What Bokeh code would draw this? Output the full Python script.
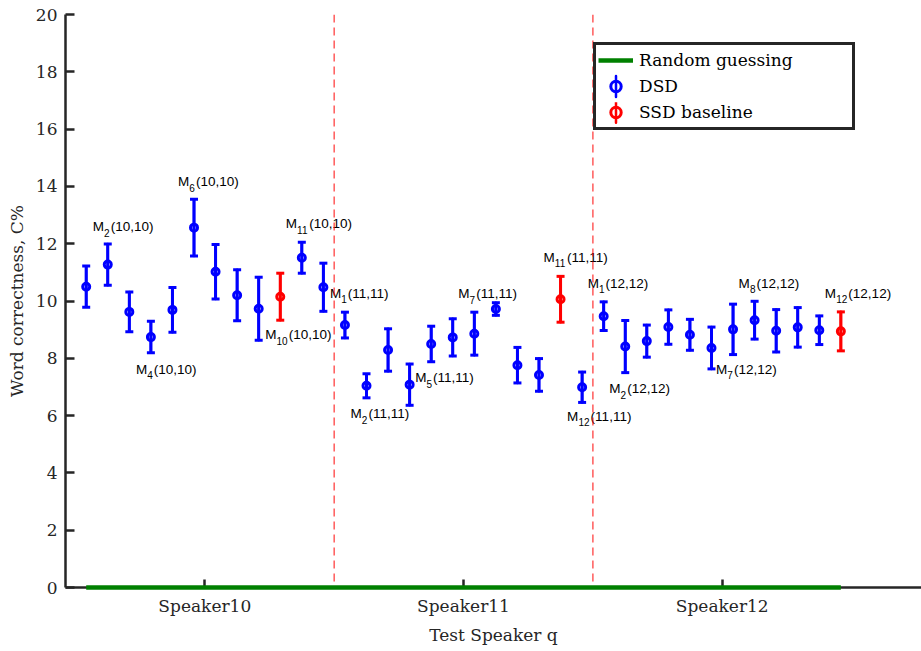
import math
from bokeh.plotting import figure
from bokeh.models import ColumnDataSource, Span, FixedTicker, Legend, LegendItem, Range1d
from bokeh.embed import file_html
from bokeh.resources import INLINE
from bokeh.core.properties import value

# ---------------- data ----------------
speakers = ["Speaker10", "Speaker11", "Speaker12"]
speaker_ids = [10, 11, 12]
n_models = 12

mean_s10 = [10.50, 11.27, 9.62, 8.74, 9.69, 12.56, 11.02, 10.20, 9.73, 10.15, 11.51, 10.48]
err_s10 = [0.72, 0.72, 0.69, 0.55, 0.78, 0.99, 0.95, 0.89, 1.10, 0.82, 0.54, 0.84]
mean_s11 = [9.16, 7.04, 8.29, 7.08, 8.50, 8.73, 8.86, 9.72, 7.76, 7.42, 10.06, 6.99]
err_s11 = [0.45, 0.42, 0.74, 0.72, 0.62, 0.65, 0.75, 0.22, 0.62, 0.57, 0.80, 0.53]
mean_s12 = [9.47, 8.41, 8.60, 9.09, 8.82, 8.36, 9.01, 9.33, 8.96, 9.08, 8.98, 8.94]
err_s12 = [0.50, 0.91, 0.56, 0.60, 0.54, 0.73, 0.88, 0.66, 0.74, 0.69, 0.50, 0.68]
ssd_model = [10, 11, 12]          # model index of the SSD baseline per test speaker
random_guess = 0.0
yticks = [0, 2, 4, 6, 8, 10, 12, 14, 16, 18, 20]

# annotated models: (speaker index, model number)
labelled = [(0, 2), (0, 4), (0, 6), (0, 10), (0, 11),
            (1, 1), (1, 2), (1, 5), (1, 7), (1, 11), (1, 12),
            (2, 1), (2, 2), (2, 7), (2, 8), (2, 12)]
# screen offsets (px) of each annotation from its point
label_offsets = [(-15, -38), (-15, 32), (-16, -46), (-15, 38), (-16, -34),
                 (-15, -32), (-16, 28), (-16, 34), (-16, -40), (-17, -42), (-15, 29),
                 (-16, -33), (-16, 42), (-17, 40), (-16, -37), (-16, -38)]

means = [mean_s10, mean_s11, mean_s12]
errs = [err_s10, err_s11, err_s12]

# ---------------- build sources ----------------
def pos(s, m):
    return n_models * s + m

dsd = dict(x=[], y=[], lo=[], hi=[], h=[])
ssd = dict(x=[], y=[], lo=[], hi=[], h=[])
for s in range(len(speakers)):
    for m in range(1, n_models + 1):
        v = means[s][m - 1]
        e = errs[s][m - 1]
        d = ssd if m == ssd_model[s] else dsd
        d["x"].append(pos(s, m))
        d["y"].append(v)
        d["lo"].append(v - e)
        d["hi"].append(v + e)
        d["h"].append(2 * e)
dsd_src = ColumnDataSource(dsd)
ssd_src = ColumnDataSource(ssd)

BLUE = "#0000ff"
RED = "#ff0000"
GREEN = "#008000"
AX = "#262626"
SERIF = "'DejaVu Serif', serif"
SANS = "'Liberation Sans', Arial, sans-serif"

p = figure(width=921, height=651, x_range=Range1d(0.04, 39.74), y_range=Range1d(0, 20),
           output_backend="svg", toolbar_location=None,
           min_border_left=65, min_border_right=0, min_border_top=14, min_border_bottom=64)
p.outline_line_color = None
p.grid.visible = False
p.background_fill_color = "white"

# separators between speakers
for s in range(len(speakers) - 1):
    p.add_layout(Span(location=pos(s, n_models) + 0.5, dimension="height",
                      line_color=RED, line_alpha=0.75, line_width=1.3, line_dash="8 5"))

def draw(src, color):
    p.segment(x0="x", y0="lo", x1="x", y1="hi", source=src, line_color=color, line_width=3)
    p.scatter(x="x", y="lo", source=src, marker="dash", size=8, line_color=color, line_width=3)
    p.scatter(x="x", y="hi", source=src, marker="dash", size=8, line_color=color, line_width=3)
    # thin ellipse spanning the error bar: hidden under the stem, gives a vertical bar legend icon
    el = p.ellipse(x="x", y="y", width=0.01, height="h", width_units="screen",
                   source=src, fill_color=None, line_color=color, line_width=2.5)
    c = p.scatter(x="x", y="y", source=src, marker="circle", size=7, fill_color=None,
                  line_color=color, line_width=3)
    return el, c

dsd_el, dsd_c = draw(dsd_src, BLUE)
ssd_el, ssd_c = draw(ssd_src, RED)

rg = p.line(x=[pos(0, 1), pos(len(speakers) - 1, n_models)], y=[random_guess, random_guess],
            line_color=GREEN, line_width=4.5, level="overlay")

# annotations M_k(q,q)
ann = dict(x=[], y=[], m=[], sub=[], rest=[], dx=[], dy=[], sdx=[], sdy=[], rdx=[])
for (s, m), (ox, oy) in zip(labelled, label_offsets):
    ann["x"].append(pos(s, m))
    ann["y"].append(means[s][m - 1])
    ann["m"].append("M")
    ann["sub"].append(str(m))
    ann["rest"].append("(%d,%d)" % (speaker_ids[s], speaker_ids[s]))
    ann["dx"].append(ox)
    ann["dy"].append(oy)
    ann["sdx"].append(ox + 11.3)
    ann["sdy"].append(oy + 6)
    ann["rdx"].append(ox + 11.3 + 5.6 * len(str(m)) + 1.0)
ann_src = ColumnDataSource(ann)
common = dict(source=ann_src, text_font=value(SANS), text_baseline="middle",
              text_align="left", text_color="black")
p.text(x="x", y="y", text="m", x_offset="dx", y_offset="dy", text_font_size="13.5px", **common)
p.text(x="x", y="y", text="sub", x_offset="sdx", y_offset="sdy", text_font_size="10px", **common)
p.text(x="x", y="y", text="rest", x_offset="rdx", y_offset="dy", text_font_size="13.5px", **common)

# axes
centers = [pos(s, 0) + (n_models + 1) / 2 for s in range(len(speakers))]
p.xaxis.ticker = FixedTicker(ticks=centers)
p.xaxis.major_label_overrides = {c: lab for c, lab in zip(centers, speakers)}
p.yaxis.ticker = FixedTicker(ticks=yticks)
p.xaxis.axis_label = "Test Speaker q"
p.yaxis.axis_label = "Word correctness, C%"
for ax in (p.xaxis[0], p.yaxis[0]):
    ax.axis_line_color = AX
    ax.axis_line_width = 2.5
    ax.major_tick_line_color = AX
    ax.major_tick_line_width = 2.5
    ax.major_tick_in = 9
    ax.major_tick_out = 0
    ax.minor_tick_line_color = None
    ax.major_label_text_font = SERIF
    ax.major_label_text_font_size = "17px"
    ax.major_label_text_color = AX
    ax.major_label_standoff = 8
    ax.axis_label_text_font = SERIF
    ax.axis_label_text_font_size = "17px"
    ax.axis_label_text_font_style = "normal"
    ax.axis_label_text_color = AX
    ax.axis_label_standoff = 6
p.xaxis.major_tick_in = 8

legend = Legend(items=[LegendItem(label="Random guessing", renderers=[rg]),
                       LegendItem(label="DSD", renderers=[dsd_el, dsd_c]),
                       LegendItem(label="SSD baseline", renderers=[ssd_el, ssd_c])],
                location=(528, 457), glyph_width=35, glyph_height=26, label_height=26,
                spacing=0, padding=2, margin=0, label_standoff=6, label_width=211,
                border_line_color=AX, border_line_width=3, border_line_alpha=1.0,
                background_fill_color="white",
                background_fill_alpha=1.0, label_text_font=SERIF, label_text_font_size="17px",
                label_text_color="black", label_text_baseline="middle")
p.add_layout(legend)

open("out.html", "w").write(file_html(p, INLINE))
